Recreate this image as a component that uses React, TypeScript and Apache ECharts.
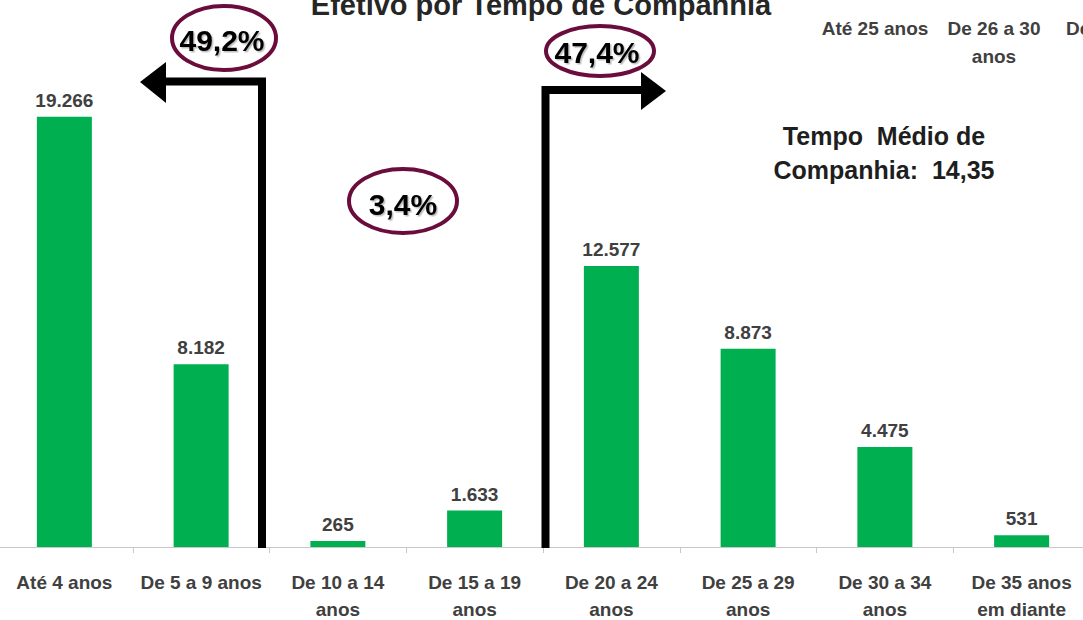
import React, { useEffect, useRef } from "react";
import * as echarts from "echarts";

const categories = [
  "Até 4 anos",
  "De 5 a 9 anos",
  "De 10 a 14 anos",
  "De 15 a 19 anos",
  "De 20 a 24 anos",
  "De 25 a 29 anos",
  "De 30 a 34 anos",
  "De 35 anos em diante",
];
const values = [19266, 8182, 265, 1633, 12577, 8873, 4475, 531];
const titleText = "Efetivo por Tempo de Companhia";
const legendLabels = ["Até 25 anos", "De 26 a 30\nanos", "De"];
const percentLabels = ["49,2%", "3,4%", "47,4%"];
const noteText = "Tempo  Médio de\nCompanhia:  14,35";

const FONT = "'Liberation Sans', Arial, sans-serif";
const GREEN = "#00B050";
const MAROON = "#6b0d3c";
const LABEL = "#404040";
// the chart container starts 4px left of the page, so page x = chart x - OX
const OX = 4;

function fmt(v: number): string {
  return String(v).replace(/\B(?=(\d{3})+(?!\d))/g, ".");
}

function wrap(s: string): string {
  if (s.length <= 13) return s;
  const words = s.split(" ");
  let first = "";
  let i = 0;
  while (i < words.length) {
    const next = first ? first + " " + words[i] : words[i];
    if (next.length > 10) break;
    first = next;
    i++;
  }
  return first + "\n" + words.slice(i).join(" ");
}

export default function App() {
  const ref = useRef<HTMLDivElement>(null);

  useEffect(() => {
    if (!ref.current) return;
    const chart = echarts.init(ref.current, null, { renderer: "svg" });

    const X = (x: number) => x + OX;
    const ellipse = (cx: number, cy: number, rx: number, ry: number) => ({
      type: "ellipse",
      shape: { cx: X(cx), cy, rx, ry },
      style: { fill: "none", stroke: MAROON, lineWidth: 4 },
      z: 20,
    });
    const pct = (text: string, x: number, y: number) => ({
      type: "text",
      x: X(x),
      y,
      style: {
        text,
        fill: "#000",
        font: `bold 30px ${FONT}`,
        textAlign: "center",
        textVerticalAlign: "middle",
        textShadowColor: "rgba(0,0,0,0.25)",
        textShadowOffsetX: 1.5,
        textShadowOffsetY: 1.5,
        textShadowBlur: 1,
      },
      z: 21,
    });

    chart.setOption({
      animation: false,
      backgroundColor: "#ffffff",
      grid: {
        left: 0,
        right: 0,
        top: 11,
        bottom: 73,
        containLabel: false,
        outerBoundsMode: "none",
      },
      xAxis: {
        type: "category",
        data: categories,
        boundaryGap: true,
        axisLine: { show: true, lineStyle: { color: "#c8c8c8", width: 1 } },
        axisTick: { show: true, length: 6, lineStyle: { color: "#c8c8c8" } },
        axisLabel: {
          interval: 0,
          margin: 22,
          color: LABEL,
          fontFamily: FONT,
          fontWeight: "bold",
          fontSize: 19,
          lineHeight: 27,
          formatter: (v: string) => wrap(v),
        },
      },
      yAxis: {
        type: "value",
        min: 0,
        max: 24000,
        show: false,
        splitLine: { show: false },
      },
      series: [
        {
          type: "bar",
          data: values,
          barWidth: 55,
          itemStyle: { color: GREEN },
          label: {
            show: true,
            position: "top",
            distance: 7,
            color: LABEL,
            fontFamily: FONT,
            fontWeight: "bold",
            fontSize: 19,
            formatter: (p: any) => fmt(p.value),
          },
        },
      ],
      graphic: [
        {
          type: "text",
          x: X(541),
          y: 5,
          style: {
            text: titleText,
            fill: "#262626",
            font: `bold 29px ${FONT}`,
            textAlign: "center",
            textVerticalAlign: "middle",
          },
        },
        {
          type: "text",
          x: X(875),
          y: 28,
          style: {
            text: legendLabels[0],
            fill: LABEL,
            font: `bold 19px ${FONT}`,
            textAlign: "center",
            textVerticalAlign: "middle",
          },
        },
        {
          type: "text",
          x: X(994),
          y: 42,
          style: {
            text: legendLabels[1],
            fill: LABEL,
            font: `bold 19px ${FONT}`,
            lineHeight: 28,
            textAlign: "center",
            textVerticalAlign: "middle",
          },
        },
        {
          type: "text",
          x: X(1066),
          y: 28,
          style: {
            text: legendLabels[2],
            fill: LABEL,
            font: `bold 19px ${FONT}`,
            textAlign: "left",
            textVerticalAlign: "middle",
          },
        },
        {
          type: "text",
          x: X(884),
          y: 153,
          style: {
            text: noteText,
            fill: "#1e1e1e",
            font: `bold 25px ${FONT}`,
            lineHeight: 34,
            textAlign: "center",
            textVerticalAlign: "middle",
          },
        },
        // left arrow
        {
          type: "polyline",
          shape: { points: [[X(262), 548], [X(262), 81.5], [X(160), 81.5]] },
          style: { stroke: "#000", lineWidth: 8, fill: "none", lineJoin: "miter", lineCap: "butt" },
          z: 10,
        },
        {
          type: "polygon",
          shape: { points: [[X(140), 82], [X(166), 62], [X(166), 103]] },
          style: { fill: "#000" },
          z: 10,
        },
        // right arrow
        {
          type: "polyline",
          shape: { points: [[X(545.5), 548], [X(545.5), 90], [X(645), 90]] },
          style: { stroke: "#000", lineWidth: 8, fill: "none", lineJoin: "miter", lineCap: "butt" },
          z: 10,
        },
        {
          type: "polygon",
          shape: { points: [[X(641), 72], [X(666), 91], [X(641), 110]] },
          style: { fill: "#000" },
          z: 10,
        },
        ellipse(224, 38, 52, 32),
        pct(percentLabels[0], 222, 40),
        ellipse(403, 201, 54, 32),
        pct(percentLabels[1], 403, 204),
        ellipse(600, 51, 54, 25),
        pct(percentLabels[2], 597, 52),
      ],
    });

    return () => chart.dispose();
  }, []);

  return (
    <div
      ref={ref}
      style={{
        position: "fixed",
        left: -OX,
        top: 0,
        width: 1094,
        height: 620,
        background: "#fff",
      }}
    />
  );
}
